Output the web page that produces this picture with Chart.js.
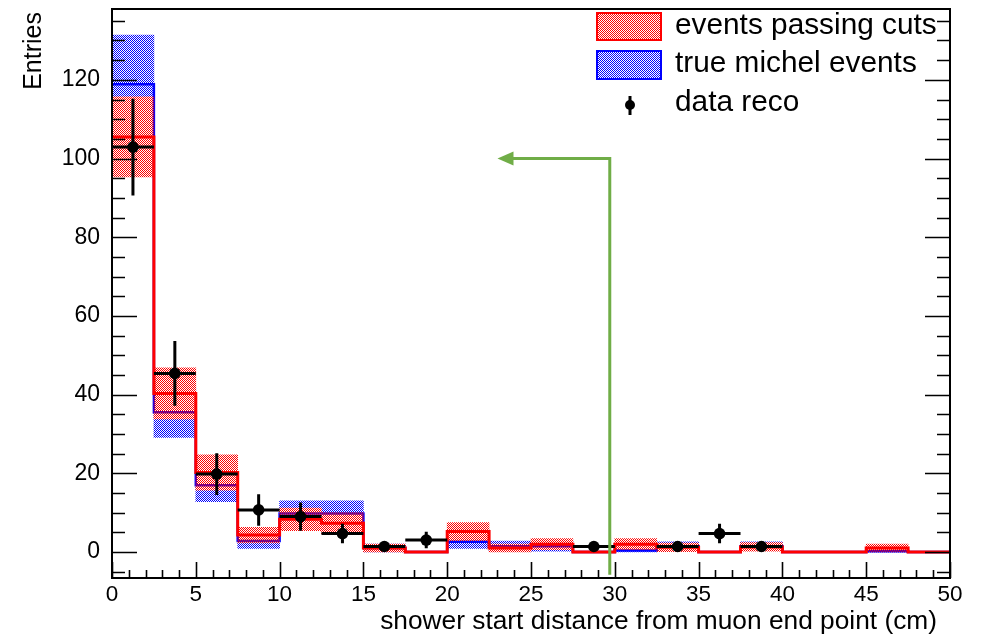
<!DOCTYPE html>
<html>
<head>
<meta charset="utf-8">
<script src="https://cdn.jsdelivr.net/npm/chart.js@4.4.1/dist/chart.umd.min.js"></script>
<style>
html,body{margin:0;padding:0;background:#fff;}
#wrap{width:981px;height:640px;}
</style>
</head>
<body>
<div id="wrap"><canvas id="c" width="981" height="640"></canvas></div>
<script>
// ---- data ----
const binCenters = [1.25, 3.75, 6.25, 8.75, 11.25, 13.75, 16.25, 18.75, 21.25, 23.75,
                    26.25, 28.75, 31.25, 33.75, 36.25, 38.75, 41.25, 43.75, 46.25, 48.75];
const binHalfWidth = 1.25;
const xMax = 50;
const passingCuts    = [105.5, 40.3, 20.2, 4.3, 8.3, 7.3, 1.0, 0, 5.2, 1.0, 2.0, 0, 2.0, 1.2, 0, 1.3, 0, 0, 1.0, 0];
const passingCutsErr = [10.2, 6.5, 4.5, 2.0, 2.9, 2.7, 1.0, 0, 2.3, 1.0, 1.4, 0, 1.4, 1.1, 0, 1.1, 0, 0, 1.0, 0];
const trueMichel     = [118.9, 35.5, 17.0, 2.8, 9.8, 9.8, 1.0, 0, 2.6, 1.5, 1.5, 0, 0.4, 1.5, 0, 1.5, 0, 0, 0.2, 0];
const trueMichelErr  = [12.5, 6.4, 4.2, 1.9, 3.2, 3.2, 1.0, 0, 1.7, 1.3, 1.3, 0, 0.4, 1.1, 0, 1.1, 0, 0, 0.2, 0];
const dataReco       = [102.9, 45.4, 19.8, 10.7, 9.0, 4.7, 1.4, 3.05, null, null, null, 1.4, null, 1.4, 4.7, 1.4, null, null, null, null];
const dataRecoErr    = [12.3, 8.2, 5.3, 4.0, 3.6, 2.5, 1.0, 2.1, null, null, null, 1.0, null, 1.0, 2.5, 1.0, null, null, null, null];
const xTickValues = [0, 5, 10, 15, 20, 25, 30, 35, 40, 45, 50];
const yTickValues = [0, 20, 40, 60, 80, 100, 120];
const yRange = [-6.6, 138];
const cutArrowX = 29.7, cutArrowTopY = 100, cutArrowTipX = 23, cutArrowBottomY = -5.8;
const legendLabels = ['events passing cuts', 'true michel events', 'data reco'];
const xTitle = 'shower start distance from muon end point (cm)';
const yTitle = 'Entries';

// ---- helpers ----
function makePattern(color){
  const pc = document.createElement('canvas');
  pc.width = 2; pc.height = 2;
  const g = pc.getContext('2d');
  g.fillStyle = color;
  g.fillRect(0,0,1,1);
  g.fillRect(1,1,1,1);
  return document.getElementById('c').getContext('2d').createPattern(pc, 'repeat');
}
const redPat = makePattern('#ff0000');
const bluePat = makePattern('#0000ff');

function bandData(vals, errs){
  return binCenters.map((x,i)=>({x:x, y:[vals[i]-errs[i], vals[i]+errs[i]]}));
}
function stepData(vals){
  const d = binCenters.map((x,i)=>({x:x-binHalfWidth, y:vals[i]}));
  d.push({x:xMax, y:vals[vals.length-1]});
  return d;
}
const pointData = binCenters.map((x,i)=>({x:x, y:dataReco[i]})).filter(p=>p.y!==null);

const FONT = "'Liberation Sans', Arial, Helvetica, sans-serif";

const rootPlugin = {
  id: 'rootStyle',
  afterDatasetsDraw(chart){
    const ctx = chart.ctx, xs = chart.scales.x, ys = chart.scales.y, ca = chart.chartArea;
    ctx.save();
    // data error bars
    ctx.strokeStyle = '#000'; ctx.lineWidth = 3; ctx.lineCap = 'butt';
    binCenters.forEach((x,i)=>{
      if (dataReco[i]===null) return;
      const px = xs.getPixelForValue(x), py = ys.getPixelForValue(dataReco[i]);
      ctx.beginPath();
      ctx.moveTo(xs.getPixelForValue(x-binHalfWidth), py);
      ctx.lineTo(xs.getPixelForValue(x+binHalfWidth), py);
      ctx.moveTo(px, ys.getPixelForValue(dataReco[i]-dataRecoErr[i]));
      ctx.lineTo(px, ys.getPixelForValue(dataReco[i]+dataRecoErr[i]));
      ctx.stroke();
    });
    // cut arrow
    ctx.strokeStyle = '#70ad47'; ctx.fillStyle = '#70ad47'; ctx.lineWidth = 3;
    const ax = xs.getPixelForValue(cutArrowX), ay = ys.getPixelForValue(cutArrowTopY);
    const tipX = xs.getPixelForValue(cutArrowTipX);
    ctx.beginPath();
    ctx.moveTo(ax, ys.getPixelForValue(cutArrowBottomY));
    ctx.lineTo(ax, ay);
    ctx.lineTo(tipX + 12, ay);
    ctx.stroke();
    ctx.beginPath();
    ctx.moveTo(tipX, ay);
    ctx.lineTo(tipX + 16, ay - 7);
    ctx.lineTo(tipX + 16, ay + 7);
    ctx.closePath();
    ctx.fill();
    // frame
    ctx.strokeStyle = '#000'; ctx.lineWidth = 2;
    ctx.strokeRect(ca.left, ca.top, ca.right - ca.left, ca.bottom - ca.top);
    // y ticks (left and right)
    ctx.lineWidth = 1.6;
    ctx.beginPath();
    for (let v = -5; v <= yRange[1]; v += 5){
      const py = Math.round(ys.getPixelForValue(v)) + 0.5;
      const major = (v % 20 === 0);
      const len = major ? 25 : 13;
      ctx.moveTo(ca.left, py); ctx.lineTo(ca.left + len, py);
      ctx.moveTo(ca.right, py); ctx.lineTo(ca.right - len, py);
    }
    // x ticks (bottom)
    for (let v = 0; v <= xMax; v += 1){
      const px = Math.round(xs.getPixelForValue(v)) + 0.5;
      const major = (v % 5 === 0);
      const len = major ? 16 : 8;
      ctx.moveTo(px, ca.bottom); ctx.lineTo(px, ca.bottom - len);
    }
    ctx.stroke();
    ctx.restore();
  },
  afterDraw(chart){
    const ctx = chart.ctx, ca = chart.chartArea;
    ctx.save();
    const bx = ca.right - 353, tx = ca.right - 275;
    // red entry
    ctx.fillStyle = redPat; ctx.fillRect(bx, 13, 64, 27);
    ctx.strokeStyle = '#ff0000'; ctx.lineWidth = 2; ctx.strokeRect(bx, 13, 64, 27);
    // blue entry
    ctx.fillStyle = bluePat; ctx.fillRect(bx, 51, 64, 28);
    ctx.strokeStyle = '#0000ff'; ctx.strokeRect(bx, 51, 64, 28);
    // data marker
    ctx.strokeStyle = '#000'; ctx.lineWidth = 3;
    ctx.beginPath(); ctx.moveTo(bx + 33, 96); ctx.lineTo(bx + 33, 115); ctx.stroke();
    ctx.fillStyle = '#000';
    ctx.beginPath(); ctx.arc(bx + 33, 105, 5, 0, Math.PI*2); ctx.fill();
    // texts
    ctx.fillStyle = '#000';
    ctx.font = '29.8px ' + FONT;
    ctx.textBaseline = 'middle'; ctx.textAlign = 'left';
    ctx.fillText(legendLabels[0], tx, 26);
    ctx.fillText(legendLabels[1], tx, 64);
    ctx.fillText(legendLabels[2], tx, 103);
    // axis titles
    ctx.font = '26.3px ' + FONT;
    ctx.textAlign = 'right'; ctx.textBaseline = 'middle';
    ctx.fillText(xTitle, ca.right - 13, 622);
    ctx.translate(34, ca.top + 3);
    ctx.rotate(-Math.PI/2);
    ctx.font = '25px ' + FONT;
    ctx.fillText(yTitle, 0, 0);
    ctx.restore();
  }
};

new Chart(document.getElementById('c'), {
  data: {
    datasets: [
      { type:'bar', label:'true michel band', data: bandData(trueMichel, trueMichelErr),
        backgroundColor: bluePat, borderWidth: 0, barPercentage: 1, categoryPercentage: 1, grouped: false, order: 5 },
      { type:'line', label: legendLabels[1], data: stepData(trueMichel), borderColor:'#0000ff', borderWidth: 2.5,
        stepped:'before', pointRadius: 0, fill: false, order: 4 },
      { type:'bar', label:'passing cuts band', data: bandData(passingCuts, passingCutsErr),
        backgroundColor: redPat, borderWidth: 0, barPercentage: 1, categoryPercentage: 1, grouped: false, order: 3 },
      { type:'line', label: legendLabels[0], data: stepData(passingCuts), borderColor:'#ff0000', borderWidth: 3,
        stepped:'before', pointRadius: 0, fill: false, order: 2 },
      { type:'scatter', label: legendLabels[2], data: pointData, pointRadius: 5.8, pointBackgroundColor:'#000',
        pointBorderWidth: 0, showLine: false, order: 1 }
    ]
  },
  options: {
    responsive: false,
    animation: false,
    devicePixelRatio: 1,
    layout: { padding: { left: 0, top: 9, right: 31, bottom: 0 } },
    plugins: { legend: { display: false }, tooltip: { enabled: false } },
    scales: {
      x: {
        type: 'linear', min: 0, max: xMax, offset: false,
        grid: { display: false, drawTicks: false },
        border: { display: false },
        afterBuildTicks: s => { s.ticks = xTickValues.map(v => ({value: v})); },
        afterFit: s => { s.height = 62; s.paddingLeft = 0; s.paddingRight = 0; },
        ticks: { padding: 3, maxRotation: 0, autoSkip: false, color:'#000', font: { family: FONT, size: 22.5 } },
        title: { display: false }
      },
      y: {
        type: 'linear', min: yRange[0], max: yRange[1],
        grid: { display: false, drawTicks: false },
        border: { display: false },
        afterBuildTicks: s => { s.ticks = yTickValues.map(v => ({value: v})); },
        afterFit: s => { s.width = 112; s.paddingTop = 0; s.paddingBottom = 0; },
        ticks: { padding: 12, autoSkip: false, color:'#000', font: { family: FONT, size: 23 } },
        title: { display: false }
      }
    }
  },
  plugins: [rootPlugin]
});
</script>
</body>
</html>
